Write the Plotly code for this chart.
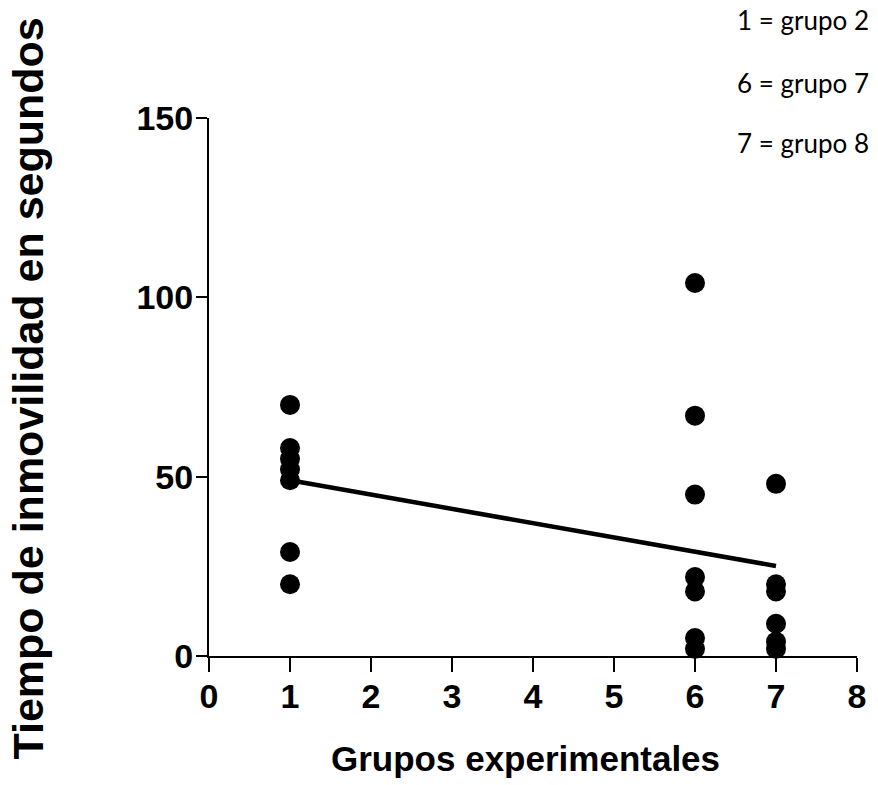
import numpy as np
import plotly.graph_objects as go

# Data
group_x = [1, 6, 7]
group1_vals = [70, 58, 55, 52, 49, 29, 20]
group6_vals = [104, 67, 45, 22, 18, 5, 2]
group7_vals = [48, 20, 18, 9, 4, 2]
legend_lines = ["1 = grupo 2", "6 = grupo 7", "7 = grupo 8"]
x_ticks = [0, 1, 2, 3, 4, 5, 6, 7, 8]
y_ticks = [0, 50, 100, 150]

xs = [group_x[0]] * len(group1_vals) + [group_x[1]] * len(group6_vals) + [group_x[2]] * len(group7_vals)
ys = group1_vals + group6_vals + group7_vals

slope, intercept = np.polyfit(xs, ys, 1)
line_x = [min(xs), max(xs)]
line_y = [slope * v + intercept for v in line_x]

fig = go.Figure()
fig.add_trace(go.Scatter(x=line_x, y=line_y, mode="lines",
                         line=dict(color="black", width=4.5), cliponaxis=False,
                         hoverinfo="skip"))
fig.add_trace(go.Scatter(x=xs, y=ys, mode="markers",
                         marker=dict(color="black", size=20, symbol="circle"),
                         cliponaxis=False))

tick_font = dict(family="Liberation Sans, Arial", size=34, color="black")

fig.update_layout(
    width=878, height=785,
    margin=dict(l=209, r=12, t=118, b=129),
    plot_bgcolor="white", paper_bgcolor="white",
    showlegend=False,
    xaxis=dict(range=[0, 8], tickvals=x_ticks, ticktext=[f"<b>{v}</b>" for v in x_ticks],
               showgrid=False, zeroline=False, showline=True, linecolor="black", linewidth=2,
               ticks="outside", ticklen=14, tickwidth=2, tickcolor="black",
               ticklabelstandoff=-5, tickfont=tick_font),
    yaxis=dict(range=[0, 150], tickvals=y_ticks, ticktext=[f"<b>{v}</b>" for v in y_ticks],
               showgrid=False, zeroline=False, showline=True, linecolor="black", linewidth=2,
               ticks="outside", ticklen=11, tickwidth=2, tickcolor="black",
               ticklabelstandoff=-4, tickfont=tick_font),
)

annotations = []
annotations.append(dict(text="<b>Grupos experimentales</b>", xref="paper", yref="paper",
                        x=(530 - 209) / 657, y=(656 - 758) / 538, xanchor="center", yanchor="middle",
                        showarrow=False,
                        font=dict(family="Liberation Sans, Arial", size=35, color="black")))
annotations.append(dict(text="<b>Tiempo de inmovilidad en segundos</b>", xref="paper", yref="paper",
                        x=(25 - 209) / 657, y=(656 - 389) / 538, xanchor="center", yanchor="middle",
                        textangle=-90, showarrow=False,
                        font=dict(family="Liberation Sans, Arial", size=43, color="black")))
legend_px = [20, 83, 143]
for txt, py in zip(legend_lines, legend_px):
    annotations.append(dict(text=txt, xref="paper", yref="paper",
                            x=(880 - 209) / 657, y=(656 - py) / 538,
                            xanchor="right", yanchor="middle", showarrow=False,
                            font=dict(family="Lato, Open Sans, sans-serif", size=26, color="black")))
fig.update_layout(annotations=annotations)

fig.write_html("out.html")
